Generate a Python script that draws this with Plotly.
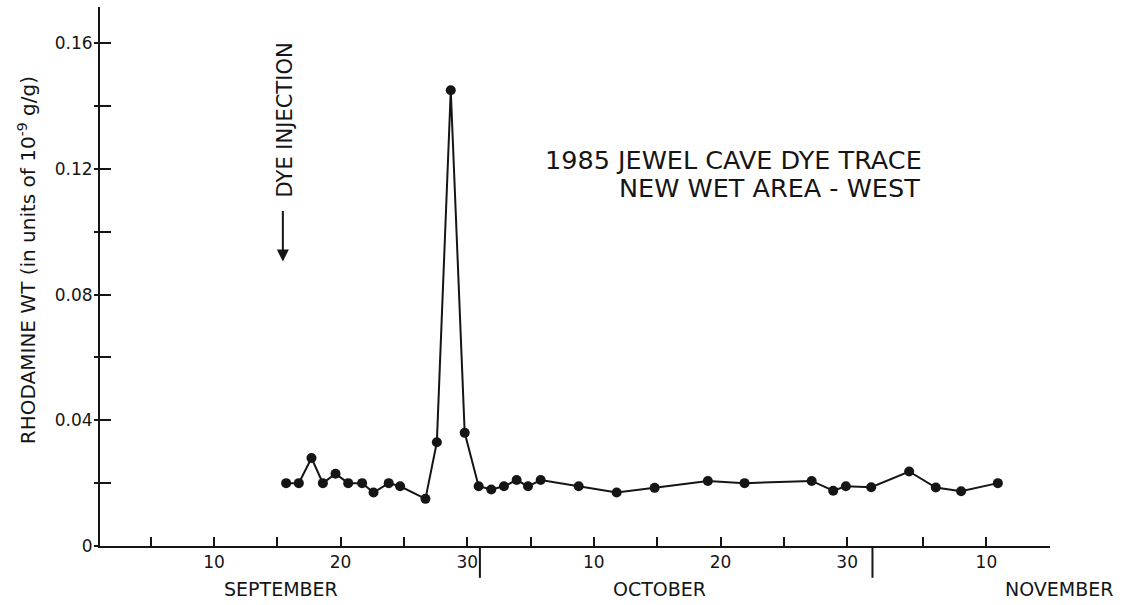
import plotly.graph_objects as go

# Days counted from Aug 31, 1985 (Sept 1 = 1, Oct 1 = 31, Nov 1 = 62)
days = [15.7, 16.7, 17.7, 18.6, 19.6, 20.6, 21.7, 22.6, 23.8, 24.7, 26.7, 27.6, 28.7, 29.8,
        30.9, 31.9, 32.9, 33.9, 34.8, 35.8, 38.8, 41.8, 44.8, 49.0, 51.9, 57.2, 58.9, 59.9,
        61.9, 64.9, 67.0, 69.0, 71.9]
rhodamine = [0.020, 0.020, 0.028, 0.020, 0.023, 0.020, 0.020, 0.017, 0.020, 0.019, 0.015, 0.033, 0.145, 0.036,
             0.019, 0.018, 0.019, 0.021, 0.019, 0.021, 0.019, 0.017, 0.0185, 0.0207, 0.020, 0.0207, 0.0176, 0.019,
             0.0187, 0.0237, 0.0186, 0.0174, 0.020]

x_tickvals = [5, 10, 15, 20, 25, 30, 35, 40, 45, 50, 55, 60, 66, 71, 76]
x_ticktext = ["", "10", "", "20", "", "30", "", "10", "", "20", "", "30", "", "10", ""]
y_tickvals = [0, 0.02, 0.04, 0.06, 0.08, 0.10, 0.12, 0.14, 0.16]
y_ticktext = ["0", "", "0.04", "", "0.08", "", "0.12", "", "0.16"]
month_names = ["SEPTEMBER", "OCTOBER", "NOVEMBER"]
month_label_pos = [0.19, 0.589, 1.009]
month_starts = [31, 62]

INK = "#151515"
FONT = "DejaVu Sans"

fig = go.Figure()
fig.add_trace(go.Scatter(
    x=days, y=rhodamine, mode="lines+markers",
    line=dict(color=INK, width=2),
    marker=dict(color=INK, size=10),
    showlegend=False, hoverinfo="skip",
))

yrange = [0, 0.1715]
fig.update_layout(
    width=1127, height=605,
    margin=dict(l=100, r=77, t=7, b=58.5),
    paper_bgcolor="white", plot_bgcolor="white",
    font=dict(family=FONT, color=INK),
    xaxis=dict(range=[1, 76.02], showgrid=False, zeroline=False,
               showline=True, linecolor=INK, linewidth=2,
               tickmode="array", tickvals=x_tickvals, ticktext=x_ticktext,
               ticks="inside", ticklen=9, tickwidth=2, tickcolor=INK,
               tickfont=dict(size=17, family=FONT, color=INK)),
    yaxis=dict(range=yrange, showgrid=False, zeroline=False,
               showline=True, linecolor=INK, linewidth=2,
               tickmode="array", tickvals=y_tickvals, ticktext=y_ticktext,
               ticks="outside", ticklen=4, tickwidth=2, tickcolor=INK,
               ticklabelstandoff=-2,
               tickfont=dict(size=17, family=FONT, color=INK)),
    yaxis2=dict(range=yrange, overlaying="y", side="left", anchor="x",
                showgrid=False, zeroline=False, showline=False,
                tickmode="array", tickvals=y_tickvals, showticklabels=False,
                ticks="inside", ticklen=11, tickwidth=2, tickcolor=INK),
)
# invisible helper so the inner tick axis is rendered
fig.add_trace(go.Scatter(x=[None], y=[None], yaxis="y2", showlegend=False, hoverinfo="skip"))

# month separators
for m in month_starts:
    fig.add_shape(type="line", xref="x", yref="paper", x0=m, x1=m, y0=0, y1=-0.059,
                  line=dict(color=INK, width=2))

for name, pos in zip(month_names, month_label_pos):
    fig.add_annotation(text=name, xref="paper", yref="paper", x=pos, y=-0.0806,
                       xanchor="center", yanchor="middle", showarrow=False,
                       font=dict(size=19, family=FONT, color=INK))

# y axis title
fig.add_annotation(text="RHODAMINE WT (in units of 10<sup>-9</sup> g/g)", textangle=-90,
                   xref="paper", yref="paper", x=-0.0775, y=0.531,
                   xanchor="center", yanchor="middle", showarrow=False,
                   font=dict(size=20, family=FONT, color=INK))

# chart title
fig.add_annotation(text="1985 JEWEL CAVE DYE TRACE", xref="paper", yref="paper",
                   x=0.4663, y=0.7164, xanchor="left", yanchor="middle", showarrow=False,
                   font=dict(size=25.5, family=FONT, color=INK))
fig.add_annotation(text="NEW WET AREA - WEST", xref="paper", yref="paper",
                   x=0.5442, y=0.6645, xanchor="left", yanchor="middle", showarrow=False,
                   font=dict(size=25.5, family=FONT, color=INK))

# dye injection marker
fig.add_annotation(text="DYE INJECTION", textangle=-90, xref="x", yref="y",
                   x=15.58, y=0.1356, xanchor="center", yanchor="middle", showarrow=False,
                   font=dict(size=21, family=FONT, color=INK))
fig.add_annotation(text="", xref="x", yref="y", x=15.44, y=0.0905, ax=0, ay=-52,
                   showarrow=True, arrowhead=2, arrowsize=1.2, arrowwidth=2, arrowcolor=INK)

fig.write_html("out.html", config={"displayModeBar": False},
               post_script="document.body.style.margin='0';document.body.style.overflow='hidden';")
